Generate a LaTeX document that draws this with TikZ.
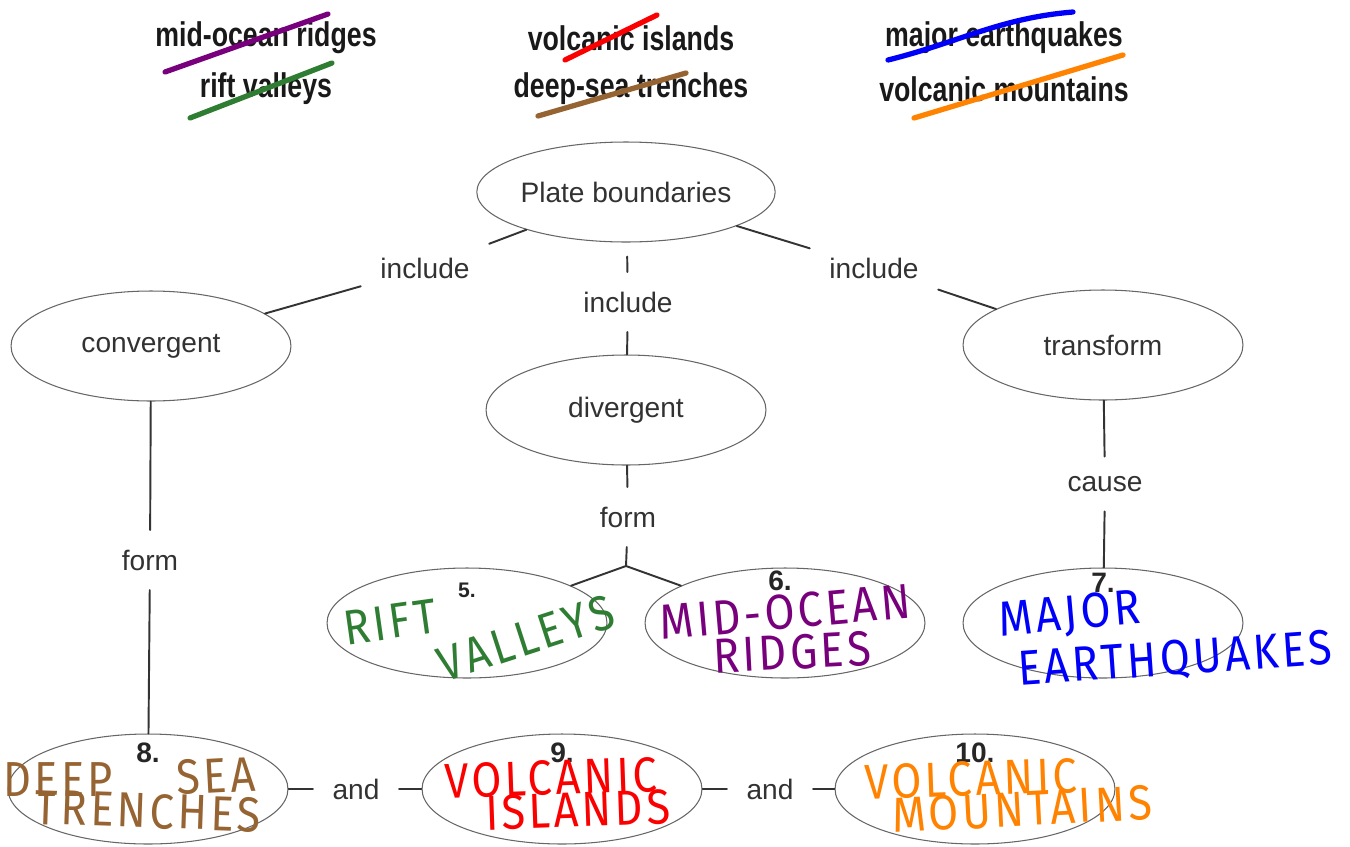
\documentclass[tikz,border=0pt]{standalone}
\usepackage{fontspec}
\setmainfont{Liberation Sans}
\newfontfamily\bankfont[FakeStretch=0.78]{Liberation Sans}
\newfontfamily\handfont[FakeStretch=0.88, LetterSpace=7]{Fira Sans}
\usetikzlibrary{shapes.geometric}

\definecolor{inkgreen}{RGB}{46,125,50}
\definecolor{inkpurple}{RGB}{120,0,125}
\definecolor{inkblue}{RGB}{0,0,250}
\definecolor{inkbrown}{RGB}{150,100,50}
\definecolor{inkred}{RGB}{250,0,0}
\definecolor{inkorange}{RGB}{255,130,0}
\definecolor{txtgray}{RGB}{50,50,50}

\begin{document}
\begin{tikzpicture}[x=0.02cm, y=-0.02cm, line cap=round, line join=round,
  bubble/.style={ellipse, draw=black!60, line width=0.6pt, minimum width=5.6cm,
    minimum height=2.2cm, inner sep=0pt, font=\fontsize{16}{18}\selectfont, text=txtgray},
  link/.style={inner sep=11pt, font=\fontsize{16}{18}\selectfont, text=txtgray},
  num/.style={font=\bfseries\fontsize{16}{18}\selectfont, text=black!85},
  bank/.style={font=\bankfont\bfseries\fontsize{19.5}{21}\selectfont, text=black!90},
  hand/.style={font=\handfont\fontsize{28}{28}\selectfont, inner sep=0pt},
  strike/.style={line width=3pt},
  wire/.style={draw=black!80, line width=1.1pt}]

\useasboundingbox (0,0) rectangle (1350,846);

% --- word bank at the top ---
\node[bank] (w1) at (266,38) {mid-ocean ridges};
\node[bank] (w2) at (266,89) {rift valleys};
\node[bank] (w3) at (631,38) {volcanic islands};
\node[bank] (w4) at (631,89) {deep-sea trenches};
\node[bank] (w5) at (1004,38) {major earthquakes};
\node[bank] (w6) at (1004,89) {volcanic mountains};

% crossed out by hand
\draw[strike, inkpurple] (165,72) -- (328,14);
\draw[strike, inkgreen] (190,118) -- (332,63);
\draw[strike, inkred] (565,60) -- (657,15);
\draw[strike, inkbrown] (538,116) -- (686,73);
\draw[strike, inkblue] (888,60) .. controls (960,42) and (1000,18) .. (1073,12);
\draw[strike, inkorange] (914,118) -- (1123,55);

% --- the map itself ---
\node[bubble] (pb) at (626,192) [minimum height=2cm] {Plate boundaries};
\node[bubble] (conv) at (151,346) {convergent};
\node[bubble] (div) at (626,410) {divergent};
\node[bubble] (trans) at (1103,345) {transform};

\node[bubble] (rv) at (467,623) {};
\node[bubble] (mor) at (785,623) {};
\node[bubble] (meq) at (1103,623) {};
\node[bubble] (dst) at (148,789) {};
\node[bubble] (vi) at (562,789) {};
\node[bubble] (vm) at (975,789) {};

% linking words
\node[link] (incL) at (425,268) {include};
\node[link] (incM) at (628,302) {include};
\node[link] (incR) at (874,268) {include};
\node[link] (formL) at (150,560) {form};
\node[link] (formM) at (628,517) {form};
\node[link] (cause) at (1105,484) {cause};
\node[link] (and1) at (356,789) {and};
\node[link] (and2) at (770,789) {and};

\coordinate (fork) at (626,566);

\draw[wire] (pb) -- (incL);
\draw[wire] (incL) -- (conv);
\draw[wire, shorten <=8pt] (pb) -- (incM);
\draw[wire] (incM) -- (div);
\draw[wire] (pb) -- (incR);
\draw[wire] (incR) -- (trans);
\draw[wire] (conv) -- (formL);
\draw[wire] (formL) -- (dst);
\draw[wire] (div) -- (formM);
\draw[wire] (formM) -- (fork);
\draw[wire] (fork) -- (rv);
\draw[wire] (fork) -- (mor);
\draw[wire] (trans) -- (cause);
\draw[wire] (cause) -- (meq);
\draw[wire] (dst) -- (and1);
\draw[wire] (and1) -- (vi);
\draw[wire] (vi) -- (and2);
\draw[wire] (and2) -- (vm);

% numbers of the blanks
\node[num, font=\bfseries\fontsize{12}{14}\selectfont] (n5) at (467,590) {5.};
\node[num] (n6) at (780,581) {6.};
\node[num] (n7) at (1103,583) {7.};
\node[num] (n8) at (148,753) {8.};
\node[num] (n9) at (562,753) {9.};
\node[num] (n10) at (975,753) {10.};

% --- handwritten answers ---
\node[hand, text=inkgreen, rotate=8] (h5a) at (390,622) {RIFT};
\node[hand, text=inkgreen, rotate=18] (h5b) at (526,638) {VALLEYS};
\node[hand, text=inkpurple, rotate=5] (h6a) at (785,612) {MID-OCEAN};
\node[hand, text=inkpurple, rotate=3] (h6b) at (792,652) {RIDGES};
\node[hand, text=inkblue, rotate=5] (h7a) at (1070,616) {MAJOR};
\node[hand, text=inkblue, rotate=4] (h7b) at (1175,660) {EARTHQUAKES};
\node[hand, text=inkbrown] (h8a) at (58,780) {DEEP};
\node[hand, text=inkbrown, rotate=3] (h8b) at (216,776) {SEA};
\node[hand, text=inkbrown, rotate=-2] (h8c) at (148,811) {TRENCHES};
\node[hand, text=inkred, rotate=2] (h9a) at (551,778) {VOLCANIC};
\node[hand, text=inkred, rotate=2] (h9b) at (578,810) {ISLANDS};
\node[hand, text=inkorange, rotate=2] (h10a) at (971,779) {VOLCANIC};
\node[hand, text=inkorange, rotate=3] (h10b) at (1022,809) {MOUNTAINS};

\end{tikzpicture}
\end{document}
